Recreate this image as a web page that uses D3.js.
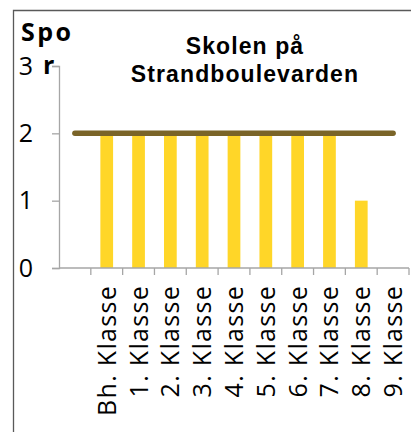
<!DOCTYPE html>
<html>
<head>
<meta charset="utf-8">
<script src="https://cdn.jsdelivr.net/npm/d3@7"></script>
<style>
  html, body { margin: 0; padding: 0; background: #fff; }
  svg { display: block; font-family: "Open Sans", sans-serif; }
</style>
</head>
<body>
<svg id="chart" width="411" height="432"></svg>
<script>
// Data
const categories = ['', 'Bh. Klasse', '1. Klasse', '2. Klasse', '3. Klasse', '4. Klasse',
  '5. Klasse', '6. Klasse', '7. Klasse', '8. Klasse', '9. Klasse'];
const barValues = [null, 2, 2, 2, 2, 2, 2, 2, 2, 1, 0];
const lineValues = [2, 2, 2, 2, 2, 2, 2, 2, 2, 2, 2];
const yTicks = [0, 1, 2, 3];
const titleLines = ['Skolen på', 'Strandboulevarden'];

const svg = d3.select('#chart');
const width = 411;
const height = 432;
const plot = { left: 59, right: 409, top: 66, bottom: 268 };

// frame round the chart area
svg.append('path')
  .attr('d', `M13.5,${height} L13.5,10.5 L${width},10.5`)
  .attr('fill', 'none')
  .attr('stroke', '#595959')
  .attr('stroke-width', 1.3);

const x = d3.scaleBand()
  .domain(categories)
  .range([plot.left, plot.right])
  .padding(0);

const y = d3.scaleLinear()
  .domain([0, 3])
  .range([plot.bottom, plot.top]);

const axisColor = '#a6a6a6';

// y axis
const yAxis = svg.append('g')
  .attr('transform', `translate(${plot.left}, 0)`)
  .call(d3.axisLeft(y).tickValues(yTicks).tickSize(7).tickPadding(18).tickFormat(d3.format('d')));
yAxis.select('.domain').attr('stroke', axisColor).attr('stroke-width', 1.3);
yAxis.selectAll('.tick line').attr('stroke', axisColor).attr('stroke-width', 1.3);
yAxis.selectAll('.tick text')
  .attr('fill', '#000')
  .attr('font-size', 25)
  .attr('font-weight', 500)
  .attr('letter-spacing', 1)
  .attr('font-family', '"Open Sans", sans-serif');

// bars
const barWidth = x.bandwidth() * 0.4;
svg.append('g')
  .selectAll('rect')
  .data(categories.map((c, i) => ({ c, v: barValues[i] })).filter((d) => d.v))
  .join('rect')
  .attr('x', (d) => x(d.c) + (x.bandwidth() - barWidth) / 2)
  .attr('y', (d) => y(d.v))
  .attr('width', barWidth)
  .attr('height', (d) => y(0) - y(d.v))
  .attr('fill', '#ffd628');

// x axis: line + ticks at band edges
const xAxis = svg.append('g')
  .attr('transform', `translate(0, ${plot.bottom})`);
xAxis.append('line')
  .attr('x1', plot.left)
  .attr('x2', plot.right)
  .attr('stroke', axisColor)
  .attr('stroke-width', 1.3);
xAxis.selectAll('line.tick')
  .data(categories.map((c) => x(c) + x.bandwidth()))
  .join('line')
  .attr('class', 'tick')
  .attr('x1', (d) => d)
  .attr('x2', (d) => d)
  .attr('y1', 0)
  .attr('y2', 7)
  .attr('stroke', axisColor)
  .attr('stroke-width', 1.3);
xAxis.selectAll('text')
  .data(categories)
  .join('text')
  .attr('transform', (d) => `translate(${x(d) + x.bandwidth() / 2 + 9}, 17) rotate(-90)`)
  .attr('text-anchor', 'end')
  .attr('font-size', 25)
  .attr('letter-spacing', 1.3)
  .attr('fill', '#000')
  .text((d) => d);

// target line
const line = d3.line()
  .x((d, i) => x(categories[i]) + x.bandwidth() / 2)
  .y((d) => y(d));
svg.append('path')
  .datum(lineValues)
  .attr('d', line)
  .attr('fill', 'none')
  .attr('stroke', '#7a6428')
  .attr('stroke-width', 5.5)
  .attr('stroke-linecap', 'round');

// title
svg.append('g')
  .selectAll('text')
  .data(titleLines)
  .join('text')
  .attr('x', 245)
  .attr('y', (_, i) => 54 + i * 28)
  .attr('text-anchor', 'middle')
  .attr('font-family', '"Liberation Sans", Arial, sans-serif')
  .attr('font-size', 23)
  .attr('font-weight', 700)
  .attr('letter-spacing', 1.1)
  .text((d) => d);

// y axis title, wrapped as in the source
svg.append('text')
  .attr('x', 21)
  .attr('y', 41)
  .attr('font-size', 25)
  .attr('font-weight', 700)
  .attr('letter-spacing', 2.5)
  .text('Spo');
svg.append('text')
  .attr('x', 43)
  .attr('y', 74)
  .attr('font-size', 25)
  .attr('font-weight', 700)
  .text('r');
</script>
</body>
</html>
